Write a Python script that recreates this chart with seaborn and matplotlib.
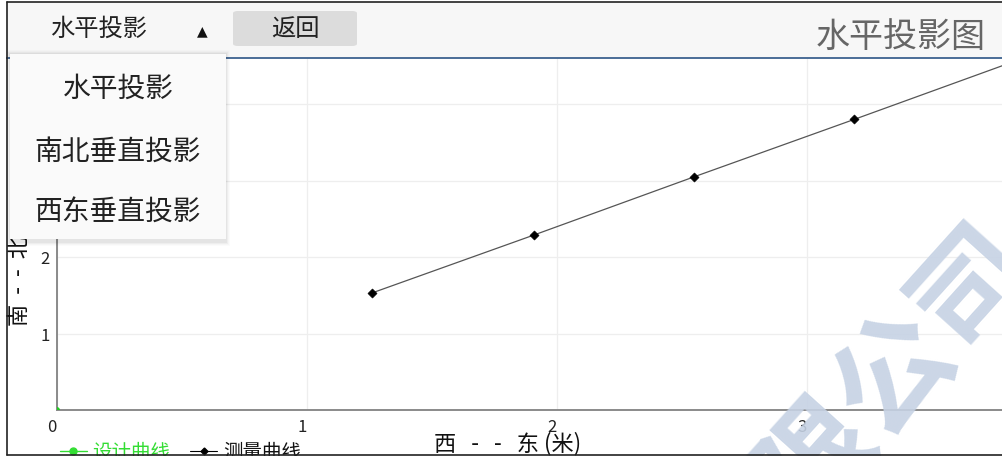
import matplotlib
matplotlib.use("Agg")
import matplotlib.pyplot as plt
import matplotlib.patches as mpatches
from matplotlib.lines import Line2D
from matplotlib.transforms import ScaledTranslation
import seaborn as sns
import pandas as pd

# data (metres)
measured_x = [1.26, 1.91, 2.55, 3.19, 3.84]
measured_y = [1.53, 2.29, 3.05, 3.80, 4.57]
design_x = [0.0]
design_y = [0.0]
x_ticks = [0, 1, 2, 3]
y_ticks = [1, 2, 3, 4]
menu_items = ["水平投影", "南北垂直投影", "西东垂直投影"]
legend_labels = ["设计曲线", "测量曲线"]

W, H = 1003, 460

sns.set_theme(style="white")
plt.rcParams["font.family"] = ["Noto Sans CJK SC", "DejaVu Sans"]


def fx(px):
    return px / W


def fy(py):
    return 1 - py / H


fig = plt.figure(figsize=(W / 100, H / 100), dpi=100)
fig.patch.set_facecolor("white")

# plot area: x=0 at px 57, 250 px per metre; y=0 at px 411, 76.5 px per metre
ax = fig.add_axes([fx(57), fy(411), fx(W) - fx(57), fy(60) - fy(411)])
ax.set_xlim(0, (W - 57) / 250)
ax.set_ylim(0, (411 - 60) / 76.5)
ax.set_facecolor("white")

meas = pd.DataFrame({"x": measured_x, "y": measured_y})
sns.lineplot(data=meas, x="x", y="y", ax=ax, color="#555555", linewidth=0.9,
             sort=False, zorder=3)
sns.scatterplot(data=meas, x="x", y="y", ax=ax, color="black", marker="D",
                s=22, edgecolor="black", zorder=4)
sns.scatterplot(x=design_x, y=design_y, ax=ax, color="#22cc22", marker="o",
                s=18, edgecolor="none", zorder=4)

ax.set_xticks(x_ticks)
ax.set_yticks(y_ticks)
ax.grid(True, color="#eeeeee", linewidth=0.9)
ax.set_axisbelow(True)
for s in ["top", "right"]:
    ax.spines[s].set_visible(False)
for s in ["left", "bottom"]:
    ax.spines[s].set_color("#8a8a8a")
    ax.spines[s].set_linewidth(1.4)
ax.tick_params(axis="both", length=3, width=0.8, color="#999999",
               labelsize=12, labelcolor="#222222", direction="out")
ax.tick_params(axis="x", pad=3)
ax.tick_params(axis="y", pad=2)
for lab in ax.get_xticklabels():
    lab.set_transform(lab.get_transform()
                      + ScaledTranslation(-5 / 100, 0, fig.dpi_scale_trans))
ax.set_xlabel("")
ax.set_ylabel("")

# axis titles
fig.text(fx(508), fy(444), "西   -   -   东 (米)", fontsize=16, color="#111111",
         ha="center", va="center")
fig.text(fx(19), fy(281), "南  -  -  北", fontsize=16, color="#111111",
         ha="center", va="center", rotation=90)

# legend at the bottom, partly cut off
handles = [
    Line2D([], [], color="#33dd33", marker="o", markersize=5, linewidth=1),
    Line2D([], [], color="black", marker="D", markersize=3.5, linewidth=0.8),
]
leg = fig.legend(handles, legend_labels, loc="center left",
                 bbox_to_anchor=(fx(42), fy(453)), ncol=2, frameon=False,
                 fontsize=14, handlelength=1.4, handletextpad=0.3,
                 columnspacing=1.0)
leg.get_texts()[0].set_color("#33dd33")
leg.get_texts()[1].set_color("#111111")

# watermark
fig.text(fx(858), fy(420), "有限公司", fontsize=84, fontweight="bold",
         color="#c6d2e4", alpha=0.9, rotation=48, rotation_mode="anchor",
         ha="center", va="center", zorder=2)

# top bar
fig.patches.append(mpatches.Rectangle((fx(6), fy(58)), 1, fy(3) - fy(58),
                                      transform=fig.transFigure,
                                      facecolor="#f7f7f7", edgecolor="none",
                                      zorder=4))
fig.patches.append(mpatches.Rectangle((fx(6), fy(60)), 1, fy(57.5) - fy(60),
                                      transform=fig.transFigure,
                                      facecolor="#4e7099", edgecolor="none",
                                      zorder=4))
fig.patches.append(mpatches.FancyBboxPatch(
    (fx(233), fy(47)), fx(357) - fx(233), fy(12) - fy(47),
    boxstyle="round,pad=0,rounding_size=0.005", transform=fig.transFigure,
    facecolor="#dcdcdc", edgecolor="none", zorder=5))
fig.text(fx(295), fy(29), "返回", fontsize=17.5, color="#222222",
         ha="center", va="center", zorder=6)
fig.text(fx(99), fy(29), "水平投影", fontsize=17.5, color="#222222",
         ha="center", va="center", zorder=6)
fig.text(fx(202), fy(31), "▲", fontsize=10, color="#111111",
         family=["DejaVu Sans"], ha="center", va="center", zorder=6)
fig.text(fx(986), fy(37), "水平投影图", fontsize=24.5, color="#666666",
         ha="right", va="center", zorder=6)

# dropdown menu with soft shadow
for i, a in enumerate([0.015, 0.02, 0.03, 0.04]):
    off = 4 - i
    fig.patches.append(mpatches.Rectangle(
        (fx(10 - off), fy(241 + off + 2)), fx(226 + 2 * off) - fx(10),
        fy(55) - fy(241 + 2 * off + 2), transform=fig.transFigure,
        facecolor="black", alpha=a, edgecolor="none", zorder=6))
fig.patches.append(mpatches.Rectangle((fx(10), fy(240)), fx(226) - fx(10),
                                      fy(55) - fy(240),
                                      transform=fig.transFigure,
                                      facecolor="#fafafa", edgecolor="none",
                                      zorder=7))
for label, py in zip(menu_items, [89, 152, 213]):
    fig.text(fx(118), fy(py), label, fontsize=20, color="#222222",
             ha="center", va="center", zorder=8)

# screenshot frame
fig.patches.append(mpatches.Rectangle((0, 0), 1, fy(456.5),
                                      transform=fig.transFigure,
                                      facecolor="white", edgecolor="none",
                                      zorder=9))
fig.patches.append(mpatches.Rectangle((0, 0), fx(6), 1,
                                      transform=fig.transFigure,
                                      facecolor="white", edgecolor="none",
                                      zorder=9))
fig.patches.append(mpatches.Rectangle((0, fy(3)), 1, 1,
                                      transform=fig.transFigure,
                                      facecolor="white", edgecolor="none",
                                      zorder=9))
fig.add_artist(Line2D([fx(7), fx(7)], [fy(3), fy(456)], color="#222222",
                      linewidth=1.2, zorder=10))
fig.add_artist(Line2D([fx(7), 1], [fy(3), fy(3)], color="#222222",
                      linewidth=1.2, zorder=10))
fig.add_artist(Line2D([fx(7), 1], [fy(456), fy(456)], color="#222222",
                      linewidth=1.2, zorder=10))

fig.savefig("out.png", dpi=100)
